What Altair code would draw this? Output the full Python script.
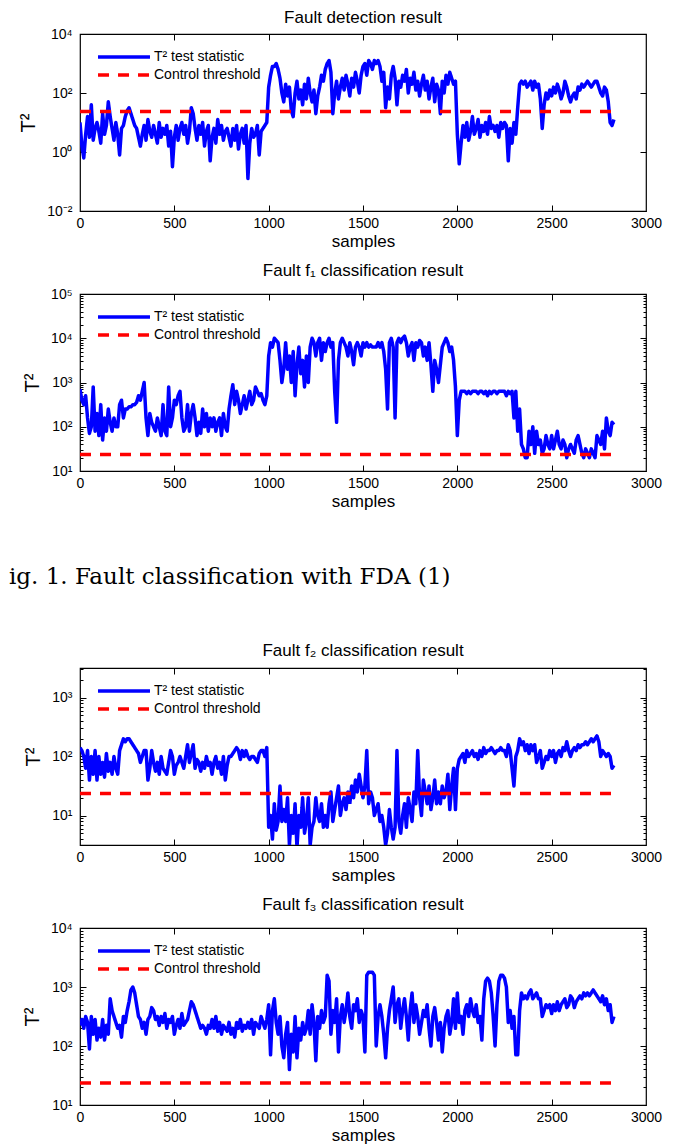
import altair as alt
import pandas as pd

# ---------------- data (log10 of T^2, one value every 10 samples) ----------------
STEP = 10
X_END = 2830
THRESHOLD = 23.5
SERIES = ["T\u00b2 test statistic", "Control threshold"]
X_TICKS = [0, 500, 1000, 1500, 2000, 2500, 3000]

DET_LOG = [
    1.0, 0.2, -0.2, 0.6, 1.2, 0.5, 1.6, 0.4, 0.8, 1.0,
    0.7, 0.3, 1.3, 0.6, 0.9, 1.7, 1.2, 0.8, 0.4, 1.0,
    0.6, -0.1, 0.8, 0.9, 1.2, 1.4, 1.5, 1.3, 1.1, 0.9,
    0.8, 0.5, 0.2, 0.6, 0.9, 0.4, 1.1, 0.7, 0.5, 0.9,
    0.6, 0.3, 1.0, 0.5, 0.8, 0.6, 0.9, 0.2, 0.7, -0.5,
    0.5, 0.9, 0.4, 0.8, 1.0, 0.6, 0.9, 0.3, 0.7, 1.5,
    1.3, 0.8, 0.4, 0.9, 0.6, 1.0, 0.2, 0.7, 0.9, -0.3,
    0.5, 0.8, 0.3, 1.1, 0.6, 0.9, 0.4, 0.7, 0.8, 0.5,
    0.2, 0.8, 0.4, 0.9, 0.1, 0.6, 0.8, 0.3, 0.9, -0.9,
    0.3, 0.8, 0.5, 0.6, 0.9, -0.1, 0.7, 0.8, 0.9, 1.0,
    2.2, 2.6, 2.9, 2.9, 3.0, 2.8, 2.5, 2.0, 1.7, 2.3,
    1.9, 2.2, 1.4, 1.2, 2.0, 2.4, 1.8, 2.1, 1.6, 2.3,
    1.8, 2.5, 2.0, 1.7, 2.1, 1.3, 1.9, 2.2, 2.6, 2.4,
    2.8, 3.0, 3.1, 2.7, 1.3, 2.0, 2.4, 1.8, 2.2, 2.5,
    2.1, 2.6, 2.3, 1.9, 2.5, 2.2, 2.7, 2.4, 2.0, 2.6,
    2.9, 3.0, 2.6, 3.1, 3.0, 2.8, 3.1, 3.0, 3.1, 2.9,
    2.4, 2.7, 1.5, 2.2, 1.8, 2.6, 2.9, 2.5, 1.6, 2.4,
    2.2, 2.6, 2.4, 2.8, 2.0, 2.5, 2.3, 2.7, 2.1, 2.4,
    1.9, 2.3, 2.6, 2.1, 2.4, 1.8, 2.2, 2.5, 1.7, 2.3,
    2.1, 1.3, 2.4, 2.0, 2.6, 2.3, 2.7, 2.5, 2.3, 2.4,
    0.6, -0.4, 0.3, 0.9, 0.5, 1.0, 0.4, 0.7, 1.2, 0.6,
    0.8, 1.1, 0.5, 0.9, 0.7, 1.0, 0.6, 1.2, 0.8, 0.9,
    0.7, 0.9, 0.5, 1.0, 0.8, 1.0, 0.9, -0.3, 0.8, 0.3,
    1.0, 0.6, 1.5, 2.3, 2.4, 2.3, 2.4, 2.2, 2.3, 2.4,
    2.1, 2.4, 2.2, 2.3, 1.8, 0.8, 1.6, 2.0, 1.8, 2.1,
    1.9, 2.2, 2.0, 2.3, 2.1, 1.8, 2.0, 2.4, 2.2, 1.9,
    1.7, 1.9, 2.0, 1.8, 2.2, 2.1, 2.3, 2.2, 2.3, 2.4,
    2.3, 2.2, 2.3, 2.4, 2.4, 2.2, 2.0, 1.9, 2.2, 2.1,
    1.7, 1.0, 0.9, 1.1,
]

F1_LOG = [
    2.85, 2.6, 2.5, 2.7, 2.2, 1.85, 2.0, 2.9, 1.9, 2.3,
    1.8, 2.5, 1.7, 2.2, 1.9, 2.4, 2.1, 1.9, 2.2, 2.0,
    2.0, 2.5, 2.6, 2.2, 2.4, 2.4, 2.45, 2.45, 2.5, 2.5,
    2.55, 2.7, 2.6, 2.8, 3.0, 2.2, 1.8, 2.3, 2.1, 2.0,
    1.9, 2.2, 2.0, 1.8, 2.5, 1.9, 1.8, 2.9, 2.0, 2.2,
    2.6, 2.5, 2.7, 2.8, 2.2, 1.9, 2.0, 2.5, 1.9, 2.3,
    2.5, 2.2, 1.8, 2.1, 1.85, 2.4, 2.0, 2.3, 1.9, 2.2,
    2.0, 2.2, 1.9, 2.1, 2.2, 1.8, 2.3, 2.0, 1.9, 2.4,
    2.7, 2.95, 2.5, 2.8, 2.6, 2.3, 2.5, 2.7, 2.4, 2.6,
    2.8, 2.5, 2.6, 2.9, 2.8, 2.7, 2.75, 2.6, 2.5, 2.7,
    3.6, 3.9, 3.8, 4.0, 3.95, 3.9, 3.5, 3.0, 3.3, 3.9,
    3.3, 3.6, 3.0, 3.7, 2.7, 3.4, 3.8, 3.2, 3.5, 2.9,
    3.6, 3.0, 3.8, 4.0, 3.9, 3.6, 3.9, 4.0, 3.5, 3.9,
    3.7, 3.9, 4.0, 3.8, 3.9, 2.8, 2.1, 3.5, 3.9, 4.0,
    3.9, 3.8, 3.6, 3.9, 3.7, 3.4, 3.8, 3.9, 3.8, 3.6,
    3.9, 3.8, 3.9, 3.8, 3.85, 3.8, 3.8, 3.8, 3.9, 3.8,
    3.9, 3.7, 3.3, 2.4, 3.9, 4.0, 3.8, 2.2, 3.9, 4.0,
    3.9, 4.0, 4.05, 3.9, 3.6, 3.8, 3.9, 3.5, 3.9, 3.8,
    3.95, 3.9, 3.6, 3.8, 3.5, 3.9, 3.4, 2.8, 3.5, 3.3,
    3.0, 3.4, 3.8, 3.9, 4.0, 3.9, 3.7, 3.8, 3.5, 2.9,
    1.8, 2.6, 2.8, 2.8, 2.8, 2.75, 2.8, 2.75, 2.8, 2.8,
    2.8, 2.75, 2.8, 2.8, 2.75, 2.8, 2.7, 2.8, 2.75, 2.8,
    2.8, 2.75, 2.8, 2.8, 2.8, 2.8, 2.7, 2.8, 2.75, 2.8,
    2.2, 2.8, 1.9, 2.4, 1.6, 1.5, 1.3, 1.3, 1.9, 1.6,
    2.0, 1.4, 1.9, 1.6, 1.7, 1.4, 1.5, 1.8, 1.6, 1.5,
    1.8, 1.5, 1.7, 1.9, 1.6, 1.5, 1.7, 1.6, 1.3, 1.5,
    1.6, 1.5, 1.4, 1.7, 1.8, 1.6, 1.4, 1.3, 1.5, 1.4,
    1.3, 1.5, 1.4, 1.3, 1.8, 1.7, 1.6, 1.9, 1.5, 2.2,
    1.9, 1.8, 2.1, 2.05,
]

F2_LOG = [
    2.15, 2.1, 2.0, 1.8, 2.1, 1.6, 2.0, 1.7, 2.1, 1.6,
    2.0, 1.7, 1.9, 1.65, 2.05, 1.75, 1.9, 1.7, 2.0, 1.8,
    1.7, 2.1, 2.2, 2.3, 2.25, 2.3, 2.3, 2.25, 2.2, 2.15,
    2.1, 2.05, 1.9, 2.0, 2.1, 2.1, 1.6, 1.8, 2.1, 1.9,
    1.75, 1.9, 1.7, 2.0, 1.8, 1.75, 1.7, 1.9, 2.1, 2.0,
    1.7, 1.85, 1.9, 2.0, 1.9, 1.8, 2.0, 2.2, 1.9, 2.05,
    2.2, 1.8, 1.95, 1.9, 1.75, 1.9, 1.8, 2.0, 1.85, 1.9,
    1.7, 1.9, 2.0, 1.8, 1.9, 1.7, 2.0, 1.6, 1.85, 2.0,
    2.0, 2.05, 2.1, 2.15, 2.1, 1.95, 2.1, 2.0, 2.1, 2.0,
    1.95, 2.0, 2.0, 1.95, 1.9, 2.05, 2.1, 2.1, 2.0, 2.15,
    0.8, 1.0, 0.6, 1.2, 0.75, 0.9, 1.5, 0.9, 1.1, 0.9,
    1.3, 0.5, 1.0, 0.7, 1.2, 0.45, 1.0, 0.8, 1.3, 0.7,
    0.9, 1.3, 0.5, 0.8, 0.9, 1.3, 1.0, 0.9, 1.2, 0.8,
    1.0, 0.8, 1.2, 1.4, 0.9, 1.1, 1.3, 1.5, 1.0, 1.2,
    1.3, 1.1, 1.4, 1.2, 1.5, 1.3, 1.6, 1.4, 1.7, 1.5,
    1.3, 1.5, 2.1, 1.2, 1.4, 1.3, 1.0, 1.1, 1.2, 0.9,
    1.0, 0.8, 0.5, 0.7, 1.1, 0.8, 0.6, 0.8, 2.1, 0.9,
    0.7, 1.0, 1.2, 0.8, 1.3, 1.1, 0.9, 1.4, 1.2, 2.1,
    1.3, 1.0, 1.6, 1.4, 1.2, 1.5, 1.1, 1.3, 1.6, 1.2,
    1.4, 1.2, 1.5, 1.3, 1.4, 1.7, 1.1, 1.5, 1.8, 1.1,
    1.8, 1.95, 2.0, 2.05, 1.9, 2.1, 2.0, 2.05, 2.1, 2.0,
    2.05, 1.95, 2.1, 2.0, 2.15, 2.05, 2.1, 2.1, 2.15, 2.1,
    2.05, 2.1, 2.1, 2.15, 2.1, 2.1, 2.0, 2.2, 2.1, 1.8,
    1.5, 2.0, 2.1, 2.3, 2.2, 2.25, 2.1, 2.2, 2.05, 2.2,
    2.1, 2.2, 1.9, 2.0, 2.1, 1.8, 1.9, 2.0, 1.95, 2.1,
    2.0, 2.1, 1.9, 2.05, 2.1, 2.0, 2.15, 2.1, 2.25, 2.1,
    2.0, 2.1, 2.15, 2.1, 2.2, 2.15, 2.2, 2.2, 2.25, 2.2,
    2.25, 2.3, 2.25, 2.3, 2.35, 2.25, 2.0, 2.1, 2.05, 2.0,
    2.05, 2.0, 1.8, 1.85,
]

F3_LOG = [
    2.35, 2.45, 2.3, 2.5, 2.4, 1.95, 2.5, 2.2, 2.45, 2.1,
    2.3, 2.15, 2.45, 2.1, 2.35, 2.2, 2.8, 2.6, 2.5, 2.4,
    2.3, 2.35, 2.15, 2.5, 2.4, 2.6, 2.75, 2.95, 3.0, 2.9,
    2.7, 2.5, 2.45, 2.3, 2.4, 2.2, 2.45, 2.5, 2.65, 2.6,
    2.45, 2.5, 2.35, 2.5, 2.4, 2.55, 2.3, 2.45, 2.4, 2.5,
    2.2, 2.35, 2.45, 2.3, 2.55, 2.35, 2.4, 2.45, 2.6, 2.75,
    2.7, 2.6, 2.5, 2.4, 2.3, 2.35, 2.3, 2.2, 2.35, 2.3,
    2.45, 2.3, 2.5, 2.25, 2.4, 2.2, 2.35, 2.3, 2.25, 2.4,
    2.2, 2.3, 2.15, 2.4, 2.3, 2.45, 2.25, 2.35, 2.3, 2.4,
    2.3, 2.45, 2.2, 2.4, 2.35, 2.3, 2.5, 2.4, 2.3, 2.45,
    2.7, 1.85, 2.6, 2.8, 2.4, 2.2, 2.5, 2.0, 1.8, 2.2,
    2.4, 1.6, 2.2, 1.9, 2.5, 1.8, 2.3, 2.1, 2.4, 2.2,
    2.3, 2.6, 2.2, 2.7, 2.4, 1.75, 2.5, 2.3, 2.6, 2.4,
    2.5, 3.2, 3.1, 2.2, 2.6, 2.4, 2.8, 1.9, 2.5, 2.7,
    2.4, 2.6, 2.9, 2.5, 2.3, 2.7, 2.6, 2.8, 2.4, 2.6,
    2.5, 1.9, 3.2, 3.25, 3.25, 3.25, 3.2, 2.0, 2.5, 2.7,
    2.5, 2.2, 1.8, 2.3, 2.6, 2.8, 3.0, 2.4, 2.7, 2.8,
    2.3, 2.6, 2.8, 2.5, 2.1, 2.6, 2.9, 2.4, 2.7, 2.5,
    2.2, 2.4, 2.6, 2.5, 2.7, 2.3, 2.0, 2.5, 2.65, 2.4,
    2.1, 2.4, 1.9, 2.3, 2.5, 2.6, 2.2, 2.4, 2.8, 2.3,
    2.9, 2.4, 2.5, 2.2, 2.6, 2.7, 2.5, 2.8, 2.6, 2.5,
    2.7, 2.4, 2.5, 2.1, 2.8, 3.1, 3.15, 3.1, 2.9, 2.5,
    2.0, 2.7, 3.1, 3.2, 3.2, 3.15, 3.0, 2.4, 2.6, 2.3,
    2.5, 1.85, 1.85, 2.6, 2.9, 2.8, 2.85, 2.8, 2.9, 2.95,
    2.8, 2.85, 2.9, 2.8, 2.8, 2.5, 2.6, 2.7, 2.65, 2.7,
    2.55, 2.7, 2.6, 2.75, 2.6, 2.7, 2.75, 2.8, 2.65, 2.7,
    2.85, 2.8, 2.65, 2.75, 2.8, 2.85, 2.8, 2.9, 2.85, 2.9,
    2.85, 2.9, 2.95, 2.9, 2.85, 2.8, 2.75, 2.85, 2.7, 2.8,
    2.6, 2.7, 2.4, 2.5,
]

CAPTION = "ig. 1. Fault classification with FDA (1)"

# ---------------- layout constants ----------------
W, H = 566, 177
FONT = "Liberation Sans"
SPACING = 10
CAP_H = 109

EXP_TXT = {-2: "\u207b\u00b2", -1: "\u207b\u00b9", 0: "\u2070", 1: "\u00b9", 2: "\u00b2",
           3: "\u00b3", 4: "\u2074", 5: "\u2075"}

PANELS = [
    dict(title="Fault detection result", logs=DET_LOG, lo=-2.0, hi=4.0,
         majors=[-2, 0, 2, 4], minor=False, toff=0),
    dict(title="Fault f\u2081 classification result", logs=F1_LOG, lo=1.0, hi=5.0,
         majors=[1, 2, 3, 4, 5], minor=True, toff=7.5),
    dict(title="Fault f\u2082 classification result", logs=F2_LOG, lo=0.5, hi=3.5,
         majors=[1, 2, 3], minor=True, toff=7.5),
    dict(title="Fault f\u2083 classification result", logs=F3_LOG, lo=1.0, hi=4.0,
         majors=[1, 2, 3, 4], minor=True, toff=7.5),
]


def label_expr(majors):
    e = "round(log(datum.value)/LN10)"
    expr = "''"
    for m in reversed(majors):
        expr = f"({e}=={m} ? '10{EXP_TXT[m]}' : {expr})"
    return expr


def tick_values(cfg):
    vals = []
    lo, hi = cfg["lo"], cfg["hi"]
    for d in range(int(lo) - 1, int(hi) + 1):
        for k in (range(1, 10) if cfg["minor"] else [1]):
            v = k * 10.0 ** d
            if 10 ** lo * 0.999 <= v <= 10 ** hi * 1.001:
                if cfg["minor"] or d in cfg["majors"]:
                    vals.append(v)
    return vals


MAJOR_TEST = "abs(log(datum.value)/LN10 - round(log(datum.value)/LN10)) < 0.001"
TICK_SIZE = {"condition": {"test": MAJOR_TEST, "value": 6}, "value": 3}


def panel(cfg):
    samples = [i * STEP for i in range(len(cfg["logs"]))]
    df = pd.DataFrame({"sample": samples,
                       "T2": [10 ** v for v in cfg["logs"]],
                       "series": SERIES[0]})
    th = pd.DataFrame({"sample": [0, X_END], "T2": [THRESHOLD, THRESHOLD],
                       "series": SERIES[1]})
    xs = alt.Scale(domain=[0, 3000], nice=False, zero=False)
    ys = alt.Scale(type="log", domain=[10 ** cfg["lo"], 10 ** cfg["hi"]], nice=False)
    leg = alt.Legend(orient="none", legendX=37, legendY=16, title=None,
                     symbolType="M-5,0H5", symbolSize=108, symbolStrokeWidth=3.5,
                     labelFont=FONT, labelFontSize=14, labelOffset=23,
                     rowPadding=4, padding=0, labelColor="black")
    color = alt.Color("series:N", scale=alt.Scale(domain=SERIES, range=["#0000ff", "#ff0000"]),
                      legend=leg)
    dash = alt.StrokeDash("series:N", scale=alt.Scale(domain=SERIES, range=[[1, 0], [11, 9]]),
                          legend=leg)
    tv = tick_values(cfg)

    x_lab = alt.Axis(orient="bottom", values=X_TICKS, format="d", ticks=False, domain=False,
                     labelPadding=5, labelFontSize=14, labelFont=FONT, labelColor="black",
                     title="samples", titleFontSize=17, titleFont=FONT,
                     titleFontWeight="normal", titlePadding=3, titleColor="black",
                     labelFlush=False, grid=False)
    y_lab = alt.Axis(orient="left", values=[10.0 ** m for m in cfg["majors"]],
                     labelExpr=label_expr(cfg["majors"]), ticks=False, domain=False,
                     labelPadding=8, labelFontSize=14, labelFont=FONT, labelColor="black",
                     title="T\u00b2", titleFontSize=20, titleFont=FONT,
                     titleFontWeight="normal", titlePadding=8, titleColor="black", grid=False)

    def y_ticks(orient):
        return alt.Axis(orient=orient, offset=-W, values=tv, labels=False, domain=False,
                        tickSize=TICK_SIZE, tickColor="black", tickWidth=1, title=None, grid=False)

    def x_ticks(orient):
        return alt.Axis(orient=orient, offset=-H, values=X_TICKS[1:-1], labels=False,
                        domain=False, tickSize=6, tickColor="black", tickWidth=1,
                        title=None, grid=False)

    blue = alt.Chart(df).mark_line(strokeWidth=3.5, clip=True, strokeJoin="round").encode(
        x=alt.X("sample:Q", scale=xs, axis=x_lab),
        y=alt.Y("T2:Q", scale=ys, axis=y_lab),
        color=color, strokeDash=dash)
    red = alt.Chart(th).mark_line(strokeWidth=3.5, clip=True).encode(
        x=alt.X("sample:Q", scale=xs, axis=x_ticks("top")),
        y=alt.Y("T2:Q", scale=ys, axis=y_ticks("right")),
        color=color, strokeDash=dash)
    ghost = alt.Chart(th).mark_line(opacity=0, clip=True).encode(
        x=alt.X("sample:Q", scale=xs, axis=x_ticks("bottom")),
        y=alt.Y("T2:Q", scale=ys, axis=y_ticks("left")))
    return alt.layer(blue, red, ghost).resolve_axis(x="independent", y="independent").properties(
        width=W, height=H,
        title=alt.Title(cfg["title"], fontSize=17, font=FONT, fontWeight="normal",
                        offset=cfg["toff"], anchor="middle", frame="group", color="black"))


caption = alt.Chart(pd.DataFrame({"t": [CAPTION]})).mark_text(
    align="left", baseline="middle", font="DejaVu Serif", fontSize=23, color="black"
).encode(text="t:N", x=alt.value(-71), y=alt.value(56)).properties(
    width=W, height=CAP_H, view=alt.ViewBackground(stroke="transparent"))

charts = [panel(PANELS[0]), panel(PANELS[1]), caption, panel(PANELS[2]), panel(PANELS[3])]

chart = alt.vconcat(*charts, spacing=SPACING).resolve_scale(
    color="independent", strokeDash="independent").resolve_legend(
    color="independent", strokeDash="independent").properties(
    padding=0, background="white").configure_view(stroke="black", strokeWidth=1.2)

chart.save("out.html", embed_options={"renderer": "svg", "actions": False})
